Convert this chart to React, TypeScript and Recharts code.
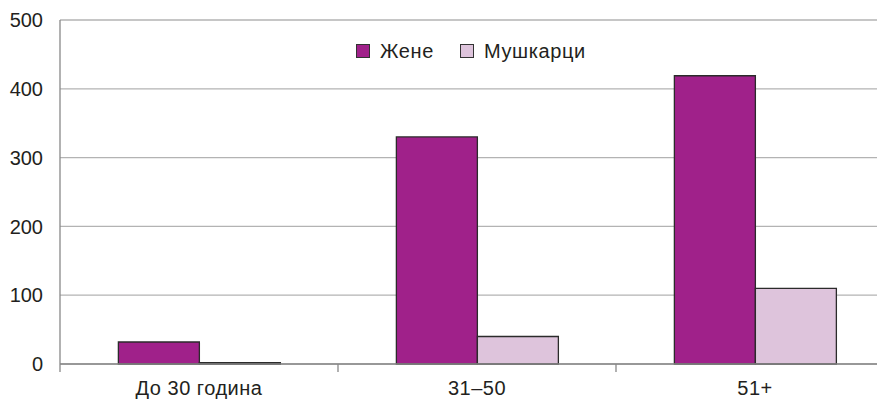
import { BarChart, Bar, XAxis, YAxis, CartesianGrid } from 'recharts'

const categories = ['До 30 година', '31–50', '51+']
const zene = [32, 330, 419]
const muskarci = [2, 40, 110]
const yTicks = [0, 100, 200, 300, 400, 500]

const data = categories.map((c, i) => ({ name: c, zene: zene[i], muskarci: muskarci[i] }))

const SERIES = [
  { key: 'zene', label: 'Жене', color: '#a0218a' },
  { key: 'muskarci', label: 'Мушкарци', color: '#dec4dc' },
]

const FONT = '"Liberation Sans", Arial, sans-serif'
const TEXT = '#231f20'
const X_MARGIN = 17

// label plus the small tick on each category edge
function CategoryTick(props: any) {
  const { x, y, payload, index, visibleTicksCount } = props
  const half = payload?.offset ?? 0
  const axisY = y - X_MARGIN
  const edges = [x - half]
  if (index === visibleTicksCount - 1) edges.push(x + half)
  return (
    <g>
      {half > 0 && edges.map(ex => (
        <line key={ex} x1={ex} x2={ex} y1={axisY} y2={axisY + 8} stroke="#888" strokeWidth={1.3} />
      ))}
      <text x={x} y={y} dy="0.71em" textAnchor="middle" fill={TEXT} fontSize={20} fontFamily={FONT} letterSpacing={0.5}>
        {payload.value}
      </text>
    </g>
  )
}

// legend sits over the plot, it takes no room from it
function LegendBox() {
  return (
    <div
      style={{
        position: 'absolute', top: 41, left: 356, display: 'flex', alignItems: 'center',
        fontFamily: FONT, fontSize: 20, letterSpacing: 0.6, color: TEXT, lineHeight: '20px',
      }}
    >
      {SERIES.map(s => (
        <div key={s.key} style={{ display: 'flex', alignItems: 'center', marginRight: 26 }}>
          <span style={{ width: 12, height: 12, background: s.color, border: '1px solid #333', marginRight: 10 }} />
          <span>{s.label}</span>
        </div>
      ))}
    </div>
  )
}

export default function App() {
  return (
    <div style={{ margin: '-8px 0 0 -8px', width: 885, height: 400, overflow: 'hidden', background: '#fff', position: 'relative' }}>
      <BarChart
        width={900}
        height={400}
        data={data}
        barCategoryGap="21%"
        barGap={0}
        margin={{ top: 20, right: 6, bottom: 0, left: 0 }}
      >
        <CartesianGrid vertical={false} stroke="#b3b3b3" strokeWidth={1.3} />
        <XAxis
          dataKey="name"
          height={36}
          axisLine={{ stroke: '#888', strokeWidth: 1.3 }}
          tickLine={false}
          tickSize={0}
          tickMargin={X_MARGIN}
          tick={<CategoryTick />}
        />
        <YAxis
          domain={[0, 500]}
          ticks={yTicks}
          width={60}
          axisLine={{ stroke: '#888', strokeWidth: 1.3 }}
          tickLine={false}
          tickSize={0}
          tickMargin={17}
          tick={{ fill: TEXT, fontSize: 20, fontFamily: FONT }}
        />
        {SERIES.map(s => (
          <Bar
            key={s.key}
            dataKey={s.key}
            name={s.label}
            fill={s.color}
            stroke="#2b2b2b"
            strokeWidth={1.3}
            isAnimationActive={false}
          />
        ))}
      </BarChart>
      <LegendBox />
    </div>
  )
}
